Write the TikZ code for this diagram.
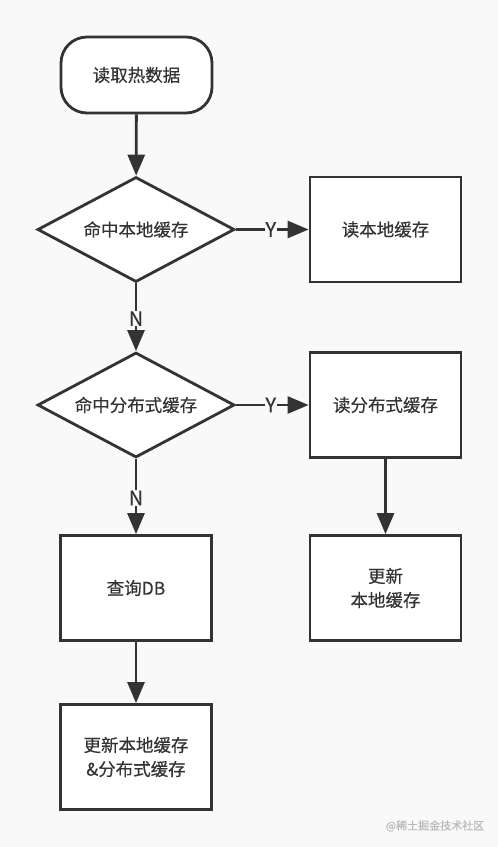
\documentclass[tikz,border=0pt]{standalone}
\usepackage{fontspec}
\setmainfont{Noto Sans CJK SC}[FakeBold=0.35]
\usetikzlibrary{shapes.geometric,arrows.meta}
\definecolor{bg}{HTML}{F9F9F9}
\definecolor{ink}{HTML}{333333}
\begin{document}
\begin{tikzpicture}[x=1pt,y=-1pt,
  base/.style={draw=ink, line width=2.8pt, fill=white, text=ink, font=\fontsize{17.5}{24}\selectfont, inner sep=0pt, align=center},
  startnode/.style={base, rectangle, rounded corners=26pt, minimum width=151pt, minimum height=76pt},
  decision/.style={base, diamond, aspect=1.88, minimum width=197pt, minimum height=105pt},
  process/.style={base, rectangle, minimum width=151pt, minimum height=105pt},
  flow/.style={draw=ink, line width=2.8pt, -{Triangle[length=21pt,width=17pt]}},
  lbl/.style={fill=bg, text=ink, font=\fontsize{20}{22}\selectfont, inner sep=0.5pt}]
\fill[bg] (0,0) rectangle (498,847);
\useasboundingbox (0,0) rectangle (498,847);

\node[startnode] (start) at (136.5,75) {读取热数据};
\node[decision] (d1) at (136,229.5) {命中本地缓存};
\node[process] (b1) at (385.5,229.5) {读本地缓存};
\node[decision] (d2) at (136,405) {命中分布式缓存};
\node[process] (b2) at (385.5,405) {读分布式缓存};
\node[process] (db) at (136,588) {查询DB};
\node[process] (b3) at (385.5,588) {更新\\本地缓存};
\node[process] (b4) at (136,757) {更新本地缓存\\\&分布式缓存};
\node[text=gray!55, font=\fontsize{11}{13}\selectfont] (wm) at (435,826) {@稀土掘金技术社区};

\draw[flow] (start) -- (d1);
\draw[flow] (d1) -- node[lbl, pos=0.48] {Y} (b1);
\draw[flow] (d1) -- node[lbl, pos=0.52] {N} (d2);
\draw[flow] (d2) -- node[lbl, pos=0.48] {Y} (b2);
\draw[flow] (b2) -- (b3);
\draw[flow] (d2) -- node[lbl, pos=0.52] {N} (db);
\draw[flow] (db) -- (b4);
\end{tikzpicture}
\end{document}
